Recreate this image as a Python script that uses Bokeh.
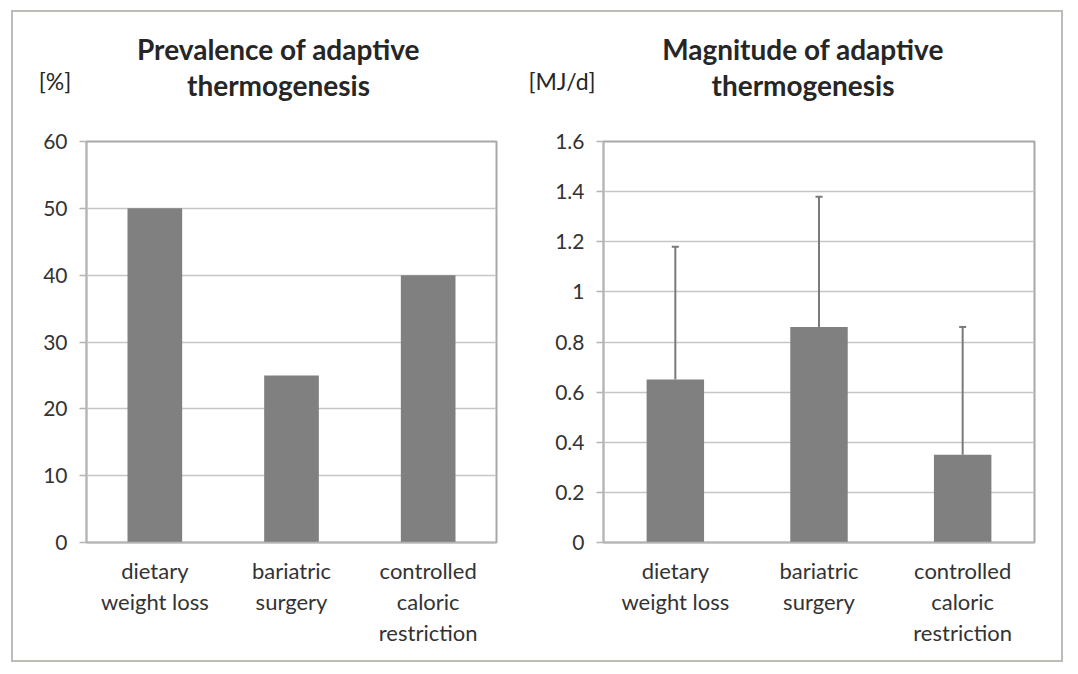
from bokeh.plotting import figure
from bokeh.models import (FactorRange, Range1d, FixedTicker, Label, Whisker, TeeHead,
                          ColumnDataSource, CustomJSTickFormatter)
from bokeh.layouts import row, column
from bokeh.embed import file_html
from bokeh.resources import INLINE

# ---- data ----
categories = ["dietary\nweight loss", "bariatric\nsurgery", "controlled\ncaloric\nrestriction"]
prevalence = [50, 25, 40]
magnitude = [0.65, 0.86, 0.35]
magnitude_upper = [1.18, 1.38, 0.86]
left_ticks = [0, 10, 20, 30, 40, 50, 60]
right_ticks = [0, 0.2, 0.4, 0.6, 0.8, 1.0, 1.2, 1.4, 1.6]
left_title = ["Prevalence of adaptive", "thermogenesis"]
right_title = ["Magnitude of adaptive", "thermogenesis"]
left_unit = "[%]"
right_unit = "[MJ/d]"

FONT = "Lato"
TXT = "#333333"
TITLE_TXT = "#262626"
BAR = "#808080"
HEAD_H = 110


def make(width, ticks, ml, mr):
    p = figure(x_range=FactorRange(*categories), y_range=Range1d(0, ticks[-1]),
               width=width, height=648 - HEAD_H,
               min_border_left=ml, min_border_right=mr,
               min_border_top=19, min_border_bottom=118,
               output_backend="svg", toolbar_location=None, tools="")
    p.background_fill_color = "white"
    p.border_fill_color = "white"
    p.outline_line_color = "#a8a8a8"
    p.outline_line_width = 2
    p.xgrid.grid_line_color = None
    p.ygrid.ticker = FixedTicker(ticks=ticks)
    p.ygrid.grid_line_color = "#c6c6c6"
    p.ygrid.grid_line_width = 1.5
    p.yaxis.ticker = FixedTicker(ticks=ticks)
    p.yaxis.formatter = CustomJSTickFormatter(code="return (Math.round(tick*10)/10).toString();")
    p.yaxis.major_tick_out = 7
    p.yaxis.major_tick_in = 0
    p.yaxis.minor_tick_line_color = None
    p.yaxis.major_label_standoff = 12
    for ax in (p.xaxis[0], p.yaxis[0]):
        ax.axis_line_color = "#b4b4b4"
        ax.axis_line_width = 1.5
        ax.major_tick_line_color = "#b4b4b4"
        ax.major_tick_line_width = 1.5
        ax.major_label_text_font = FONT
        ax.major_label_text_color = TXT
    p.yaxis.major_label_text_font_size = "21px"
    p.xaxis.major_label_text_font_size = "22px"
    p.xaxis.major_tick_line_color = None
    p.xaxis.major_label_standoff = 8
    p.xaxis.major_label_text_line_height = 1.15
    p.xaxis.major_label_orientation = "horizontal"
    return p


# header with titles and units (pixel-like coordinates)
head = figure(width=1048, height=HEAD_H, x_range=Range1d(0, 1048), y_range=Range1d(0, HEAD_H),
              x_axis_type=None, y_axis_type=None, min_border=0,
              output_backend="svg", toolbar_location=None, tools="")
head.outline_line_color = None
head.grid.grid_line_color = None
head.background_fill_color = "white"
head.border_fill_color = "white"


def add_titles(title, unit, tx, ux, uy):
    for txt, y in ((title[0], 74), (title[1], 38)):
        head.add_layout(Label(x=tx, y=y, text=txt,
                              text_align="center", text_baseline="alphabetic",
                              text_font=FONT, text_font_style="bold", text_font_size="28px",
                              text_color=TITLE_TXT))
    head.add_layout(Label(x=ux, y=uy, text=unit,
                          text_align="center", text_baseline="alphabetic",
                          text_font=FONT, text_font_size="23px", text_color=TITLE_TXT))


add_titles(left_title, left_unit, 265, 41.5, 42)
add_titles(right_title, right_unit, 789.5, 548.5, 42)

# left chart
p1 = make(516, left_ticks, 73, 33)
p1.vbar(x=categories, top=prevalence, width=0.4, fill_color=BAR, line_color=None)

# right chart
p2 = make(532, right_ticks, 74, 27)
p2.vbar(x=categories, top=magnitude, width=0.4, fill_color=BAR, line_color=None)
src = ColumnDataSource(dict(x=categories, base=magnitude, upper=magnitude_upper))
p2.add_layout(Whisker(source=src, base="x", lower="base", upper="upper",
                      line_color="#7a7a7a", line_width=2,
                      upper_head=TeeHead(size=7, line_color="#7a7a7a", line_width=2),
                      lower_head=None))

layout = column(head, row(p1, p2), margin=(10, 0, 0, 11),
                styles={"border": "2px solid #bdbdb8", "background-color": "white"})

open("out.html", "w").write(file_html(layout, INLINE))
